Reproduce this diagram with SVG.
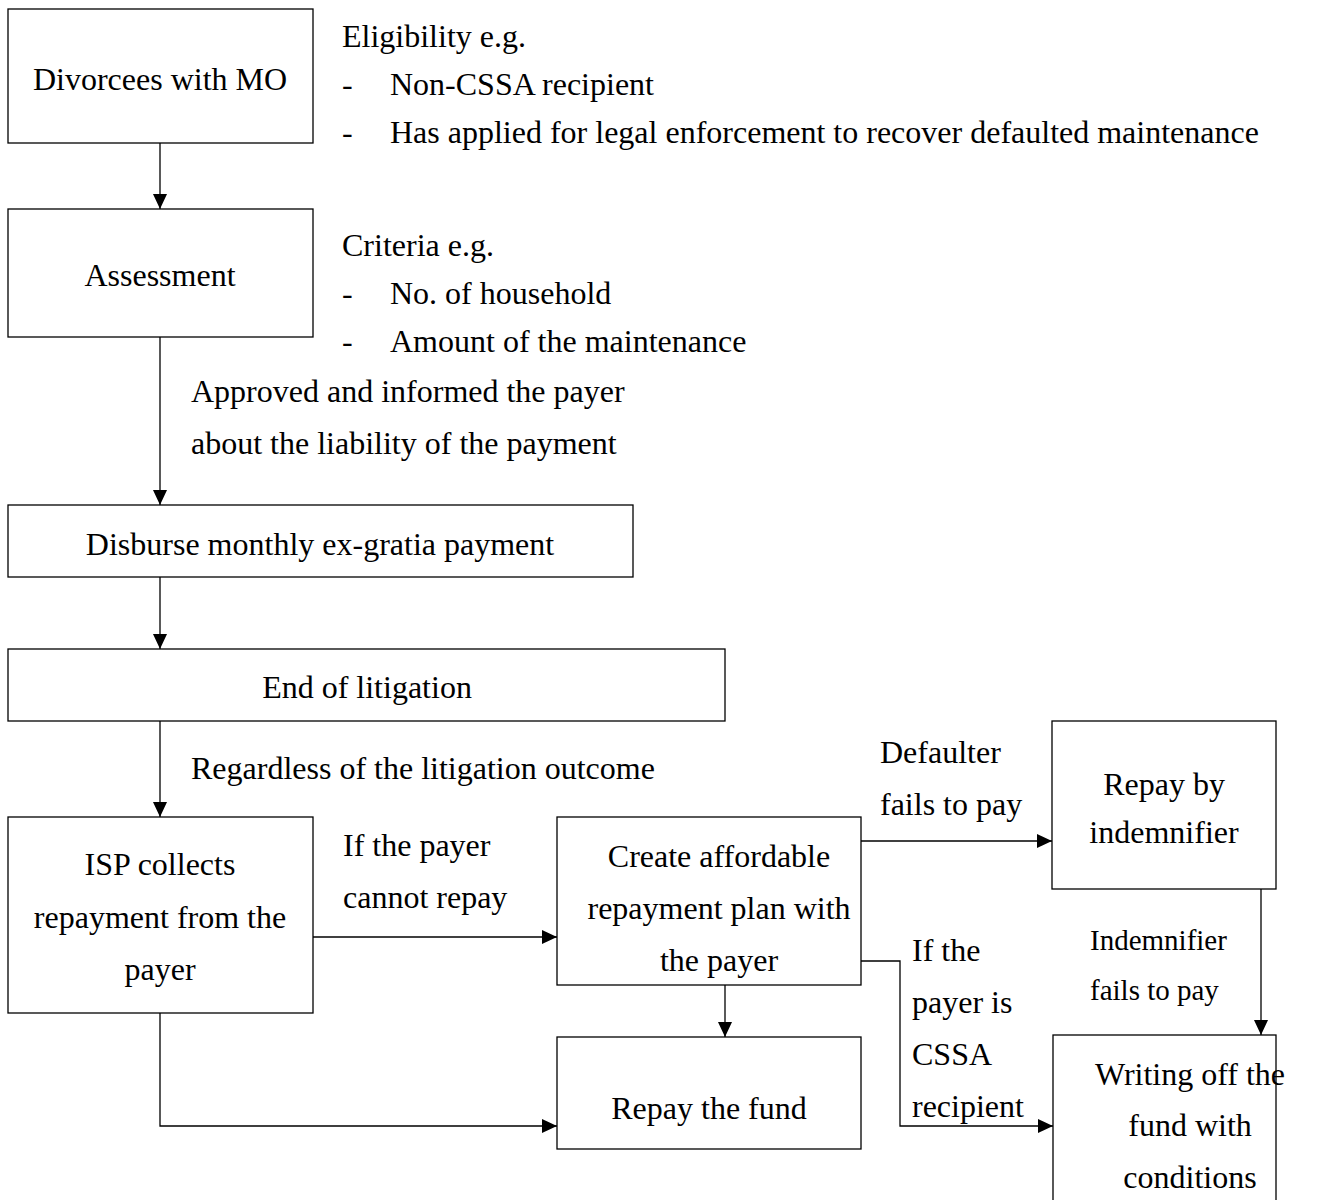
<svg xmlns="http://www.w3.org/2000/svg" width="1330" height="1200" viewBox="0 0 1330 1200">
  <style>
    .box { fill: #ffffff; stroke: #000000; stroke-width: 1.3; }
    .t { font-family: "Liberation Serif", "Times New Roman", serif; font-size: 32px; fill: #000000; }
    .s { font-size: 29px; }
    .c { text-anchor: middle; }
    .line { fill: none; stroke: #000000; stroke-width: 1.3; }
  </style>
  <defs>
    <marker id="arrow" viewBox="0 0 15 14" refX="15" refY="7" markerWidth="15" markerHeight="14" markerUnits="userSpaceOnUse" orient="auto">
      <path d="M0,0 L15,7 L0,14 Z" fill="#000000"/>
    </marker>
  </defs>
  <rect width="1330" height="1200" fill="#ffffff"/>

  <g id="connectors">
    <path class="line" d="M160,143 V209" marker-end="url(#arrow)"/>
    <path class="line" d="M160,337 V505" marker-end="url(#arrow)"/>
    <path class="line" d="M160,577 V649" marker-end="url(#arrow)"/>
    <path class="line" d="M160,721 V817" marker-end="url(#arrow)"/>
    <path class="line" d="M313,937 H557" marker-end="url(#arrow)"/>
    <path class="line" d="M861,841 H1052" marker-end="url(#arrow)"/>
    <path class="line" d="M725,985 V1037" marker-end="url(#arrow)"/>
    <path class="line" d="M861,961 H900 V1126 H1053" marker-end="url(#arrow)"/>
    <path class="line" d="M1261,889 V1035" marker-end="url(#arrow)"/>
    <path class="line" d="M160,1013 V1126 H557" marker-end="url(#arrow)"/>
  </g>

  <g id="labels">
    <text class="t" x="342" y="47">Eligibility e.g.</text>
    <text class="t" x="342" y="95">-</text>
    <text class="t" x="390" y="95">Non-CSSA recipient</text>
    <text class="t" x="342" y="143">-</text>
    <text class="t" x="390" y="143">Has applied for legal enforcement to recover defaulted maintenance</text>
    <text class="t" x="342" y="256">Criteria e.g.</text>
    <text class="t" x="342" y="304">-</text>
    <text class="t" x="390" y="304">No. of household</text>
    <text class="t" x="342" y="352">-</text>
    <text class="t" x="390" y="352">Amount of the maintenance</text>
    <text class="t" x="191" y="402">Approved and informed the payer</text>
    <text class="t" x="191" y="454">about the liability of the payment</text>
    <text class="t" x="191" y="779">Regardless of the litigation outcome</text>
    <text class="t" x="343" y="856">If the payer</text>
    <text class="t" x="343" y="908">cannot repay</text>
    <text class="t" x="880" y="763">Defaulter</text>
    <text class="t" x="880" y="815">fails to pay</text>
    <text class="t" x="912" y="961">If the</text>
    <text class="t" x="912" y="1013">payer is</text>
    <text class="t" x="912" y="1065">CSSA</text>
    <text class="t" x="912" y="1117">recipient</text>
    <text class="t s" x="1090" y="950">Indemnifier</text>
    <text class="t s" x="1090" y="1000">fails to pay</text>
  </g>

  <g id="divorcees">
    <rect class="box" x="8" y="9" width="305" height="134"/>
    <text class="t c" x="160" y="90">Divorcees with MO</text>
  </g>
  <g id="assessment">
    <rect class="box" x="8" y="209" width="305" height="128"/>
    <text class="t c" x="160" y="286">Assessment</text>
  </g>
  <g id="disburse">
    <rect class="box" x="8" y="505" width="625" height="72"/>
    <text class="t c" x="320" y="555">Disburse monthly ex-gratia payment</text>
  </g>
  <g id="end-litigation">
    <rect class="box" x="8" y="649" width="717" height="72"/>
    <text class="t c" x="367" y="698">End of litigation</text>
  </g>
  <g id="isp-collects">
    <rect class="box" x="8" y="817" width="305" height="196"/>
    <text class="t c" x="160" y="875">ISP collects</text>
    <text class="t c" x="160" y="928">repayment from the</text>
    <text class="t c" x="160" y="980">payer</text>
  </g>
  <g id="repayment-plan">
    <rect class="box" x="557" y="817" width="304" height="168"/>
    <text class="t c" x="719" y="867">Create affordable</text>
    <text class="t c" x="719" y="919">repayment plan with</text>
    <text class="t c" x="719" y="971">the payer</text>
  </g>
  <g id="indemnifier">
    <rect class="box" x="1052" y="721" width="224" height="168"/>
    <text class="t c" x="1164" y="795">Repay by</text>
    <text class="t c" x="1164" y="843">indemnifier</text>
  </g>
  <g id="repay-fund">
    <rect class="box" x="557" y="1037" width="304" height="112"/>
    <text class="t c" x="709" y="1119">Repay the fund</text>
  </g>
  <g id="write-off">
    <rect class="box" x="1053" y="1035" width="223" height="170"/>
    <text class="t c" x="1190" y="1085">Writing off the</text>
    <text class="t c" x="1190" y="1136">fund with</text>
    <text class="t c" x="1190" y="1188">conditions</text>
  </g>
</svg>
